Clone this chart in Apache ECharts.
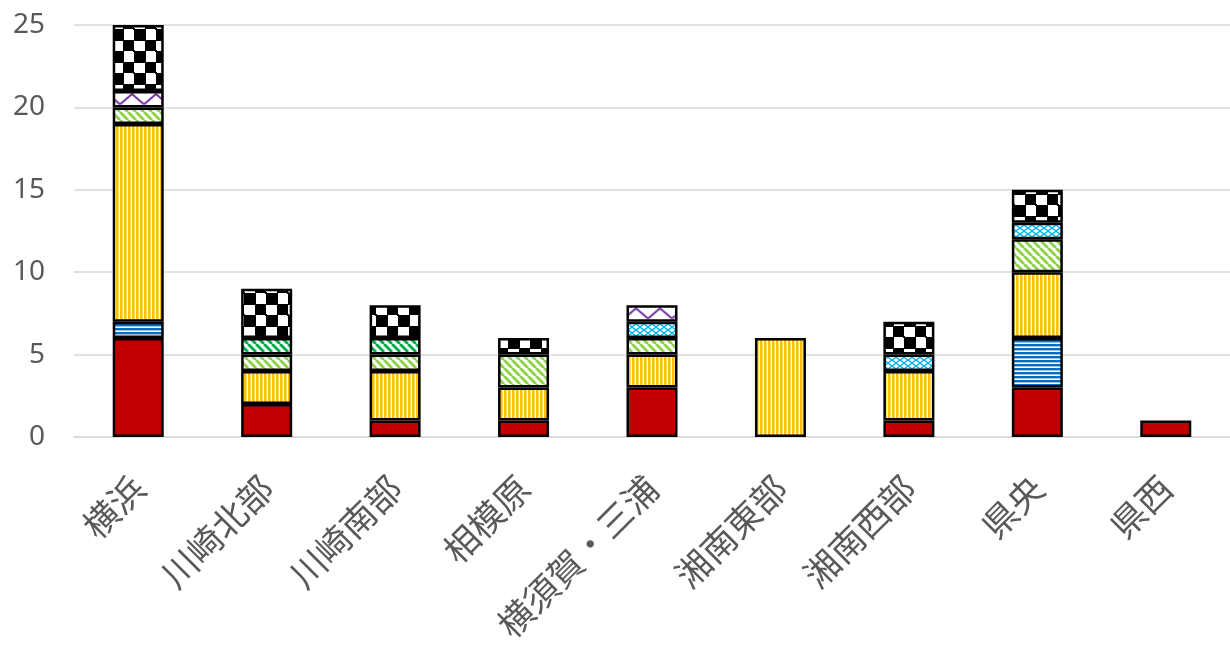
<!DOCTYPE html>
<html><head><meta charset="utf-8">
<script src="https://cdn.jsdelivr.net/npm/echarts@6/dist/echarts.min.js"></script>
<style>html,body{margin:0;padding:0;background:#fff}#c{width:1230px;height:653px}</style>
</head><body><div id="c"></div>
<script>
const categories = ['横浜','川崎北部','川崎南部','相模原','横須賀・三浦','湘南東部','湘南西部','県央','県西'];
const yTicks = [0,5,10,15,20,25];
// series values, bottom to top of each stack
const sRed      = [6,2,1,1,3,0,1,3,1];
const sBlue     = [1,0,0,0,0,0,0,3,0];
const sYellow   = [12,2,3,2,2,6,3,4,0];
const sLtGreen  = [1,1,1,2,1,0,0,2,0];
const sDkGreen  = [0,1,1,0,0,0,0,0,0];
const sCyan     = [0,0,0,0,1,0,1,1,0];
const sPurple   = [1,0,0,0,1,0,0,0,0];
const sChecker  = [4,3,2,1,0,0,2,2,0];

const GRID_TOP = 25, GRID_H = 412;
const unit = GRID_H / (yTicks[yTicks.length-1] - yTicks[0]);

function pat(w,h,draw,extra){
  const c=document.createElement('canvas'); c.width=w; c.height=h;
  const x=c.getContext('2d'); x.fillStyle='#fff'; x.fillRect(0,0,w,h); draw(x);
  return Object.assign({image:c, repeat:'repeat'}, extra||{});
}
const pBlue = pat(4,4,x=>{x.fillStyle='#0070C0';x.fillRect(0,0,4,2);x.fillStyle='#9cc3e6';x.fillRect(0,2,4,1);});
const pYellow = pat(4,4,x=>{x.fillStyle='#FFC000';x.fillRect(0,0,2,4);x.fillStyle='#FFD966';x.fillRect(2,0,1,4);});
function diag(color){
  return pat(8,8,x=>{x.strokeStyle=color;x.lineWidth=3;
    for(const o of [-16,-8,0,8,16]){x.beginPath();x.moveTo(o,0);x.lineTo(o+8,8);x.stroke();}
  });
}
const pLtGreen = diag('#92D050');
const pDkGreen = diag('#00B050');
const pCyan = pat(8,6,x=>{x.strokeStyle='#00B0F0';x.lineWidth=1.4;
  x.beginPath();x.moveTo(0,3);x.lineTo(4,0);x.lineTo(8,3);x.lineTo(4,6);x.closePath();x.stroke();
  x.fillStyle='#00B0F0';x.fillRect(3,0,2,1);x.fillRect(3,5,2,1);x.fillRect(0,2,1,2);x.fillRect(7,2,1,2);});
const pPurple = pat(24,16,x=>{x.strokeStyle='#7030A0';x.lineWidth=2;
  x.beginPath();x.moveTo(0,13);x.lineTo(12,3);x.lineTo(24,13);x.stroke();},
  {scaleY: unit/16, y: GRID_TOP + (yTicks[yTicks.length-1]-21)*unit});
const pChecker = pat(22,22,x=>{x.fillStyle='#000';
  x.fillRect(0,0,12,12);x.fillRect(11,11,11,11);x.fillRect(0,11,1,1);x.fillRect(21,0,1,1);
  x.fillRect(0,21,1,1);x.fillRect(11,0,1,1);},
  {x: 2, y: GRID_TOP + 4});

const defs = [
  ['赤',sRed,'#C00000'],['青',sBlue,pBlue],['黄',sYellow,pYellow],['黄緑',sLtGreen,pLtGreen],
  ['緑',sDkGreen,pDkGreen],['水色',sCyan,pCyan],['紫',sPurple,pPurple],['黒',sChecker,pChecker]
];
const series = defs.map(([n,d,col])=>({
  name:n, type:'bar', stack:'all', barWidth:51,
  data:d.map(v=>v===0?null:v),
  itemStyle:{color:col, borderColor:'#000', borderWidth:2.5},
  emphasis:{disabled:true}
}));

const chart = echarts.init(document.getElementById('c'));
chart.setOption({
  animation:false,
  grid:{left:74, width:1161, top:GRID_TOP, height:GRID_H, containLabel:false},
  xAxis:{type:'category', data:categories,
    axisLine:{show:true, lineStyle:{color:'#d9d9d9', width:1.5}}, axisTick:{show:false},
    axisLabel:{interval:0, rotate:45, margin:45, color:'#595959', fontSize:35, fontFamily:'Noto Sans CJK JP'}},
  yAxis:{type:'value', min:yTicks[0], max:yTicks[yTicks.length-1], interval:5,
    axisLine:{show:false}, axisTick:{show:false},
    splitLine:{lineStyle:{color:'#d9d9d9', width:1.5}},
    axisLabel:{margin:29, color:'#595959', fontSize:28, fontFamily:'Noto Sans'}},
  series
});
</script></body></html>
